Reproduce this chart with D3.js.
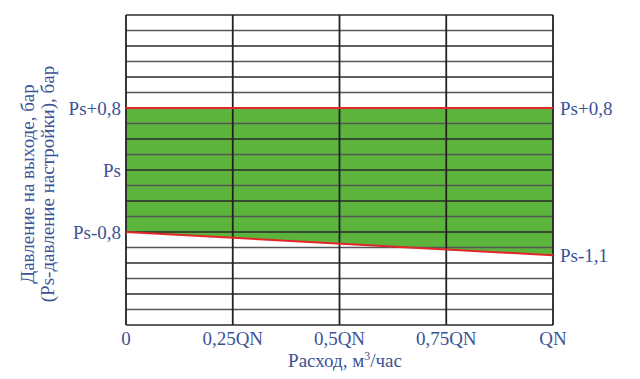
<!DOCTYPE html>
<html>
<head>
<meta charset="utf-8">
<script src="https://cdn.jsdelivr.net/npm/d3@7"></script>
<style>
  body { margin: 0; background: #fff; }
  #chart text { font-family: 'Liberation Serif', serif !important; }
</style>
</head>
<body>
<svg id="chart" width="640" height="379"></svg>
<script>
// Flow fractions of QN, pressure offsets from Ps (bar)
const flowTicks = [0, 0.25, 0.5, 0.75, 1];
const flowLabels = ['0', '0,25QN', '0,5QN', '0,75QN', 'QN'];
const upperBound = [0.8, 0.8];          // at flow 0 and QN
const lowerBound = [-0.8, -1.1];        // at flow 0 and QN
const leftTicks = [0.8, 0, -0.8];
const leftLabels = ['Ps+0,8', 'Ps', 'Ps-0,8'];
const rightTicks = [0.8, -1.1];
const rightLabels = ['Ps+0,8', 'Ps-1,1'];
const gridStep = 0.2;
const yMin = -2, yMax = 2;

const textColor = '#3d5296';
const serif = "'Liberation Serif', serif";
const svg = d3.select('#chart');
const margin = { left: 126, right: 87, top: 15, bottom: 54 };
const width = 640 - margin.left - margin.right;
const height = 379 - margin.top - margin.bottom;

const x = d3.scaleLinear().domain([0, 1]).range([margin.left, margin.left + width]);
const y = d3.scaleLinear().domain([yMin, yMax]).range([margin.top + height, margin.top]);

// green band between the two bounds
const band = [0, 1].map((f, i) => ({ f, hi: upperBound[i], lo: lowerBound[i] }));
svg.append('path')
    .datum(band)
    .attr('fill', '#5cb43c')
    .attr('d', d3.area().x(d => x(d.f)).y0(d => y(d.lo)).y1(d => y(d.hi)));

// horizontal grid
const hLines = d3.range(Math.round((yMax - yMin) / gridStep) + 1).map(i => yMin + i * gridStep);
svg.append('g')
    .selectAll('line')
    .data(hLines)
    .join('line')
    .attr('x1', x(0)).attr('x2', x(1))
    .attr('y1', d => y(d)).attr('y2', d => y(d))
    .attr('stroke', (d, i) => i % 2 === 0 ? '#2a2a2a' : '#555')
    .attr('stroke-width', 1.4);

// vertical grid
svg.append('g')
    .selectAll('line')
    .data(flowTicks)
    .join('line')
    .attr('x1', d => x(d)).attr('x2', d => x(d))
    .attr('y1', y(yMin)).attr('y2', y(yMax))
    .attr('stroke', '#222')
    .attr('stroke-width', 1.8);

// red boundary lines
const line = d3.line().x(d => x(d[0])).y(d => y(d[1]));
svg.append('path')
    .attr('d', line([[0, upperBound[0]], [1, upperBound[1]]]))
    .attr('stroke', '#e3262a').attr('stroke-width', 2).attr('fill', 'none');
svg.append('path')
    .attr('d', line([[0, lowerBound[0]], [1, lowerBound[1]]]))
    .attr('stroke', '#e3262a').attr('stroke-width', 2).attr('fill', 'none');

function label(sel, size) {
    return sel.style('font-family', serif, 'important')
        .style('font-size', size + 'px')
        .attr('fill', textColor);
}

// left tick labels
svg.append('g')
    .selectAll('text')
    .data(leftTicks)
    .join('text')
    .attr('x', x(0) - 5)
    .attr('y', d => y(d))
    .attr('dy', '0.35em')
    .attr('text-anchor', 'end')
    .call(label, 19)
    .text((d, i) => leftLabels[i]);

// right tick labels
svg.append('g')
    .selectAll('text')
    .data(rightTicks)
    .join('text')
    .attr('x', x(1) + 7)
    .attr('y', d => y(d))
    .attr('dy', '0.35em')
    .call(label, 19)
    .text((d, i) => rightLabels[i]);

// x tick labels
svg.append('g')
    .selectAll('text')
    .data(flowTicks)
    .join('text')
    .attr('x', d => x(d))
    .attr('y', 345)
    .attr('text-anchor', 'middle')
    .call(label, 19)
    .text((d, i) => flowLabels[i]);

// x title
const xt = svg.append('text')
    .attr('x', 345).attr('y', 367)
    .attr('text-anchor', 'middle')
    .call(label, 19);
xt.append('tspan').text('Расход, м');
xt.append('tspan').style('font-size', '12px').attr('dy', -7).text('3');
xt.append('tspan').attr('dy', 7).text('/час');

// y title (two lines)
const yTitle = ['Давление на выходе, бар', '(Ps-давление настройки), бар'];
svg.append('g')
    .selectAll('text')
    .data(yTitle)
    .join('text')
    .attr('transform', (d, i) => `translate(${34 + i * 20},184) rotate(-90)`)
    .attr('text-anchor', 'middle')
    .call(label, 19)
    .text(d => d);
</script>
</body>
</html>
